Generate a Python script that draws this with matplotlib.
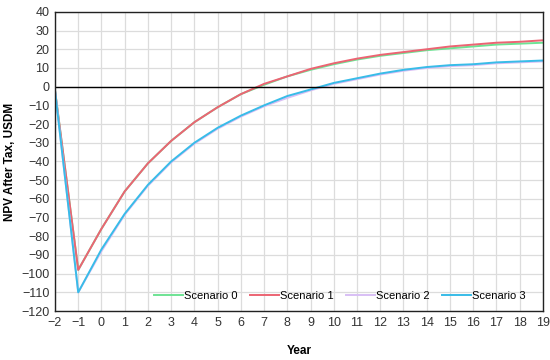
import matplotlib
matplotlib.use('Agg')
import matplotlib.pyplot as plt

plt.rcParams['font.family'] = ['Liberation Sans', 'DejaVu Sans']

years = list(range(-2, 20))
scenario_0 = [-2, -98, -76, -56, -41, -29, -19, -11, -4, 1, 5.5, 9, 12, 14.5, 16.5, 18, 19.5, 20.5, 21.5, 22.5, 23, 23.5]
scenario_1 = [-2, -98, -76, -56, -41, -29, -19, -11, -4, 1.5, 5.5, 9.5, 12.5, 15, 17, 18.5, 20, 21.5, 22.5, 23.5, 24, 24.8]
scenario_2 = [-2, -110, -88, -68.5, -53, -40.5, -30.5, -22.5, -16, -10.5, -6, -2, 1.5, 4, 6.5, 8.5, 10, 11, 11.5, 12.5, 13, 13.5]
scenario_3 = [-2, -110, -87, -68, -52.5, -40, -30, -22, -15.5, -10, -5, -1.5, 2, 4.5, 7, 9, 10.5, 11.5, 12, 13, 13.5, 14]

labels = ['Scenario 0', 'Scenario 1', 'Scenario 2', 'Scenario 3']
colors = ['#6ee394', '#ec6473', '#d8bff5', '#38bce8']

fig = plt.figure(figsize=(5.5, 3.6), dpi=100)
ax = fig.add_axes([0.1, 0.136, 0.887, 0.831])

for ys, lab, c in zip([scenario_0, scenario_1, scenario_2, scenario_3], labels, colors):
    ax.plot(years, ys, color=c, lw=1.4, label=lab)

ax.axhline(0, color='black', lw=1.0)
ax.set_xlim(-2, 19)
ax.set_ylim(-120, 40)
ax.set_xticks(range(-2, 20))
ax.set_yticks(range(-120, 41, 10))
ax.grid(True, color='#dcdcdc', lw=0.9)
ax.set_axisbelow(True)
ax.tick_params(length=0, labelsize=9, colors='#333333', pad=4)
for s in ax.spines.values():
    s.set_color('#222222')
    s.set_linewidth(1.0)

ax.set_xlabel('Year', fontweight='bold', fontsize=8.5, labelpad=12)
ax.set_ylabel('NPV After Tax, USDM', fontweight='bold', fontsize=8.5)

ax.legend(loc='lower right', ncol=4, frameon=False, fontsize=8,
          handlelength=2.6, columnspacing=1.1, handletextpad=0.1,
          bbox_to_anchor=(0.985, 0.0))

fig.savefig('out.png', dpi=100)
